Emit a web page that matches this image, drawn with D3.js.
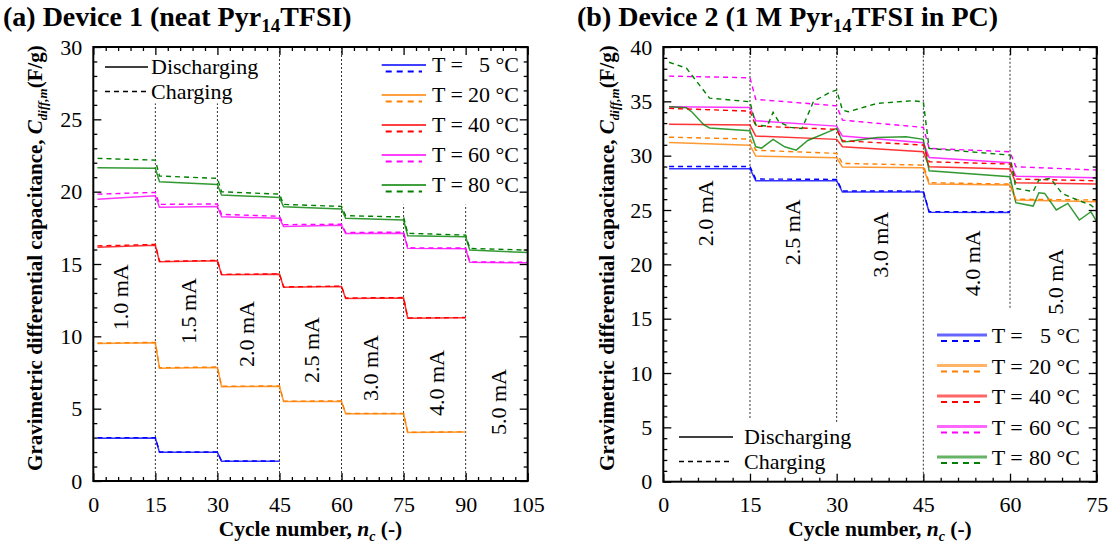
<!DOCTYPE html>
<html><head><meta charset="utf-8">
<script src="https://cdn.jsdelivr.net/npm/d3@7"></script>
<style>
body{margin:0;background:#fff;}
svg{display:block;font-family:"Liberation Serif","Times New Roman",serif;}
</style></head>
<body><svg id="c" width="1113" height="549"></svg>
<script>
// ---------------- DATA ----------------
const temps = ["5", "20", "40", "60", "80"];
const tempColors = ["#0000ff", "#ff8000", "#ff0000", "#ff00ff", "#008000"];

// Device 1 (neat Pyr14TFSI): [cycle, capacitance F/g]
const aDis5  = [[1,2.95],[15,2.98],[16,1.98],[30,1.98],[31,1.36],[45,1.36]];
const aChg5  = [[1,3.0],[15,3.0],[16,2.0],[30,2.0],[31,1.38],[45,1.38]];
const aDis20 = [[1,9.5],[15,9.55],[16,7.8],[30,7.85],[31,6.52],[45,6.55],[46,5.5],[60,5.5],[61,4.65],[75,4.65],[76,3.35],[90,3.38]];
const aChg20 = [[1,9.53],[15,9.58],[16,7.83],[30,7.88],[31,6.55],[45,6.57],[46,5.52],[60,5.53],[61,4.67],[75,4.67],[76,3.37],[90,3.4]];
const aDis40 = [[1,16.15],[15,16.3],[16,15.15],[30,15.22],[31,14.25],[45,14.3],[46,13.4],[60,13.45],[61,12.62],[75,12.65],[76,11.25],[90,11.28]];
const aChg40 = [[1,16.25],[15,16.35],[16,15.18],[30,15.25],[31,14.28],[45,14.32],[46,13.42],[60,13.47],[61,12.65],[75,12.68],[76,11.27],[90,11.3]];
const aDis60 = [[1,19.47],[15,19.72],[16,18.92],[30,18.98],[31,18.27],[45,18.16],[46,17.6],[60,17.68],[61,17.1],[75,17.12],[76,16.08],[90,16.05],[91,15.12],[105,15.08]];
const aChg60 = [[1,19.83],[15,19.95],[16,19.12],[30,19.15],[31,18.43],[45,18.3],[46,17.72],[60,17.75],[61,17.18],[75,17.2],[76,16.12],[90,16.1],[91,15.15],[105,15.12]];
const aDis80 = [[1,21.65],[15,21.62],[16,20.68],[30,20.5],[31,19.77],[45,19.6],[46,18.96],[60,18.8],[61,18.16],[75,18.04],[76,16.95],[90,16.88],[91,15.96],[105,15.8]];
const aChg80 = [[1,22.3],[15,22.18],[16,21.08],[30,20.92],[31,19.99],[45,19.83],[46,19.12],[60,18.98],[61,18.34],[75,18.25],[76,17.12],[90,17.0],[91,16.08],[105,15.96]];

// Device 2 (1 M Pyr14TFSI in PC)
const bDis5  = [[1,28.8],[15,28.8],[16,27.7],[30,27.7],[31,26.65],[45,26.65],[46,24.8],[60,24.78]];
const bChg5  = [[1,29.0],[15,29.0],[16,27.85],[30,27.82],[31,26.75],[45,26.74],[46,24.85],[60,24.84]];
const bDis20 = [[1,31.22],[15,30.97],[16,29.96],[30,29.81],[31,28.95],[45,28.89],[46,27.39],[60,27.3],[61,25.92],[75,25.76]];
const bChg20 = [[1,31.7],[15,31.53],[16,30.5],[30,30.21],[31,29.29],[45,29.13],[46,27.51],[60,27.39],[61,26.0],[75,25.92]];
const bDis40 = [[1,32.9],[15,32.82],[16,31.8],[30,31.5],[31,30.82],[45,30.36],[46,28.98],[60,28.77],[61,27.51],[75,27.39]];
const bChg40 = [[1,34.35],[15,34.1],[16,32.72],[30,32.42],[31,31.37],[45,30.98],[46,29.44],[60,29.23],[61,27.85],[75,27.69]];
const bDis60 = [[1,34.5],[15,34.44],[16,33.21],[30,32.72],[31,31.8],[45,31.19],[46,29.84],[60,29.35],[61,28.1],[75,27.98]];
const bChg60 = [[1,37.32],[15,37.17],[16,35.18],[30,34.59],[31,33.27],[45,32.6],[46,30.67],[60,30.36],[61,28.98],[75,28.68]];
const bDis80 = [[1,34.5],[4,34.4],[5,34.0],[7,32.85],[8,32.55],[15,32.3],[16,30.82],[17,30.7],[19,31.5],[21,30.82],[23,30.51],[25,31.4],[30,32.51],[31,31.28],[32,31.3],[37,31.68],[42,31.74],[45,31.5],[46,28.61],[60,28.06],[61,25.67],[64,25.36],[65,26.59],[66,26.53],[68,25.0],[70,25.61],[72,24.08],[74,24.84],[75,23.92]];
const bChg80 = [[1,38.6],[4,38.05],[8,35.3],[15,34.96],[16,32.82],[18,32.72],[19,34.0],[20,33.12],[22,32.6],[24,32.5],[26,35.0],[29,35.88],[30,36.03],[31,34.2],[32,34.04],[37,34.81],[43,35.05],[45,34.96],[46,30.67],[60,30.05],[61,26.99],[64,26.7],[65,27.76],[67,27.91],[69,26.53],[71,26.07],[74,25.45],[75,25.0]];

const aCurrents = ["1.0 mA","1.5 mA","2.0 mA","2.5 mA","3.0 mA","4.0 mA","5.0 mA"];
const bCurrents = ["2.0 mA","2.5 mA","3.0 mA","4.0 mA","5.0 mA"];
const aTicksX = [0,15,30,45,60,75,90,105];
const aTicksY = [0,5,10,15,20,25,30];
const bTicksX = [0,15,30,45,60,75];
const bTicksY = [0,5,10,15,20,25,30,35,40];
// segment separators: [cycle, from, to]
const aSeps = [[15,0,26.1],[30,0,26.1],[45,0,30],[60,0,30],[75,0,19.1],[90,0,19.1]];
const bSeps = [[15,5.86,40],[30,5.5,40],[45,0,40],[60,16.0,40]];

// ---------------- LAYOUT ----------------
const svg = d3.select("#c");
const FONT = '"Liberation Serif","Times New Roman",serif';

function panel(cfg){
  const x = d3.scaleLinear().domain(cfg.xd).range(cfg.xr);
  const y = d3.scaleLinear().domain(cfg.yd).range(cfg.yr);
  const g = svg.append("g");
  const [x0,x1] = cfg.xr, [y0,y1] = cfg.yr; // y0 bottom, y1 top
  const xMinor = d3.range(cfg.xd[0], cfg.xd[1]+0.001, 3).filter(v => v % 15 !== 0);
  const yMinor = d3.range(cfg.yd[0], cfg.yd[1]+0.001, 1).filter(v => v % 5 !== 0);

  // separators
  g.selectAll(".sep").data(cfg.seps).join("line")
    .attr("x1", d => x(d[0])).attr("x2", d => x(d[0]))
    .attr("y1", d => y(d[1])).attr("y2", d => y(d[2]))
    .attr("stroke", "#333").attr("stroke-width", 1).attr("stroke-dasharray", "2,2");

  // current labels
  g.selectAll(".cur").data(cfg.currents).join("text")
    .attr("transform", (d,i) => `translate(${x(cfg.curPos[i][0])},${y(cfg.curPos[i][1])}) rotate(-90)`)
    .attr("text-anchor", "middle").attr("dy", "0.35em")
    .attr("font-size", 22).attr("font-family", FONT).text(d => d);

  // series
  const line = d3.line().x(d => x(d[0])).y(d => y(d[1]));
  cfg.series.forEach((s,i) => {
    g.append("path").attr("d", line(s.dis)).attr("fill","none")
      .attr("stroke", tempColors[s.t]).attr("stroke-width", 1.5).attr("stroke-opacity", 0.8);
  });
  cfg.series.forEach((s,i) => {
    g.append("path").attr("d", line(s.chg)).attr("fill","none")
      .attr("stroke", tempColors[s.t]).attr("stroke-width", 1.4).attr("stroke-dasharray", "5,4");
  });

  // axes
  const mk = (ax, vals, size, fmt) => ax.tickValues(vals).tickSize(size).tickFormat(fmt);
  const bottom = g.append("g").attr("transform", `translate(0,${y0})`);
  bottom.call(mk(d3.axisBottom(x), cfg.xt, -8, d3.format("d")).tickPadding(15));
  bottom.append("g").call(mk(d3.axisBottom(x), xMinor, -4, ""));
  const top = g.append("g").attr("transform", `translate(0,${y1})`);
  top.call(mk(d3.axisTop(x), cfg.xt, -8, ""));
  top.append("g").call(mk(d3.axisTop(x), xMinor, -4, ""));
  const left = g.append("g").attr("transform", `translate(${x0},0)`);
  left.call(mk(d3.axisLeft(y), cfg.yt, -8, d3.format("d")).tickPadding(11));
  left.append("g").call(mk(d3.axisLeft(y), yMinor, -4, ""));
  const right = g.append("g").attr("transform", `translate(${x1},0)`);
  right.call(mk(d3.axisRight(y), cfg.yt, -8, ""));
  right.append("g").call(mk(d3.axisRight(y), yMinor, -4, ""));
  g.selectAll(".domain").remove();
  g.selectAll(".tick line").attr("stroke","#000").attr("stroke-width",1.3);
  g.selectAll(".tick text").attr("font-size", 22).attr("font-family", FONT).attr("fill","#000");
  g.append("rect").attr("x", x0).attr("y", y1).attr("width", x1-x0).attr("height", y0-y1)
    .attr("fill","none").attr("stroke","#000").attr("stroke-width",2);

  // title
  const t = svg.append("text").attr("x", cfg.titleX).attr("y", 26)
    .attr("font-size", 28).attr("font-weight","bold").attr("font-family", FONT);
  t.append("tspan").text(cfg.title[0]);
  t.append("tspan").attr("font-size", 19).attr("dy", 6).text("14");
  t.append("tspan").attr("dy", -6).text(cfg.title[1]);

  // y label
  const yl = svg.append("text")
    .attr("transform", `translate(${cfg.ylabX},${cfg.ylabY}) rotate(-90)`)
    .attr("text-anchor","middle").attr("font-size", 21).attr("font-weight","bold").attr("font-family", FONT);
  yl.append("tspan").text("Gravimetric differential capacitance, ");
  yl.append("tspan").attr("font-style","italic").text("C");
  yl.append("tspan").attr("font-style","italic").attr("font-size", 13).attr("dy", 5).text("diff,m");
  yl.append("tspan").attr("dy", -5).text("(F/g)");

  // x label
  const xl = svg.append("text").attr("x", (x0+x1)/2).attr("y", 535.5)
    .attr("text-anchor","middle").attr("font-size", 21.5).attr("font-weight","bold").attr("font-family", FONT);
  xl.append("tspan").text("Cycle number, ");
  xl.append("tspan").attr("font-style","italic").text("n");
  xl.append("tspan").attr("font-style","italic").attr("font-size", 14).attr("dy", 5).text("c");
  xl.append("tspan").attr("dy", -5).text(" (-)");
  return {x, y};
}

function leg(cfg){
  // Discharging / Charging
  const g = svg.append("g");
  const dc = [["Discharging", null], ["Charging", "5,4"]];
  dc.forEach((d,i) => {
    const yy = cfg.dcY[i];
    g.append("line").attr("x1", cfg.dcX[0]).attr("x2", cfg.dcX[1]).attr("y1", yy).attr("y2", yy)
      .attr("stroke","#000").attr("stroke-width",1.4).attr("stroke-dasharray", d[1]);
    g.append("text").attr("x", cfg.dcX[2]).attr("y", yy + 7).attr("font-size", 22).attr("font-family", FONT).text(d[0]);
  });
  temps.forEach((t,i) => {
    const base = cfg.tY0 + i*cfg.tDy;
    g.append("line").attr("x1", cfg.tX[0]).attr("x2", cfg.tX[1]).attr("y1", base - cfg.solidOff).attr("y2", base - cfg.solidOff)
      .attr("stroke", tempColors[i]).attr("stroke-width", cfg.solidW).attr("stroke-opacity", cfg.solidOp);
    g.append("line").attr("x1", cfg.tX[0]+4).attr("x2", cfg.tX[1]-4).attr("y1", base - cfg.dashOff).attr("y2", base - cfg.dashOff)
      .attr("stroke", tempColors[i]).attr("stroke-width", 1.8).attr("stroke-dasharray","6,5");
    g.append("text").attr("x", cfg.tX[2]).attr("y", base).attr("font-size", 22).attr("font-family", FONT).text("T =");
    g.append("text").attr("x", cfg.tX[3]).attr("y", base).attr("text-anchor","end").attr("font-size", 22).attr("font-family", FONT).text(t + " °C");
  });
}

const pa = panel({
  xd:[0,105], xr:[93.3,527.7], yd:[0,30], yr:[481,47],
  xt:aTicksX, yt:aTicksY, seps:aSeps, currents:aCurrents,
  curPos:[[6.45,12.7],[22.9,11.75],[37.1,10.16],[52.6,9.05],[66.9,7.81],[82.9,6.77],[97.8,5.46]],
  series:[
    {t:0, dis:aDis5, chg:aChg5},{t:1, dis:aDis20, chg:aChg20},{t:2, dis:aDis40, chg:aChg40},
    {t:3, dis:aDis60, chg:aChg60},{t:4, dis:aDis80, chg:aChg80}],
  titleX:3, title:["(a) Device 1 (neat Pyr","TFSI)"], ylabX:42, ylabY:258
});
const pb = panel({
  xd:[0,75], xr:[663.3,1096.7], yd:[0,40], yr:[481.7,47],
  xt:bTicksX, yt:bTicksY, seps:bSeps, currents:bCurrents,
  curPos:[[7.2,24.7],[22.3,22.95],[37.5,21.8],[53.4,20.1],[67.8,18.4]],
  series:[
    {t:0, dis:bDis5, chg:bChg5},{t:1, dis:bDis20, chg:bChg20},{t:2, dis:bDis40, chg:bChg40},
    {t:3, dis:bDis60, chg:bChg60},{t:4, dis:bDis80, chg:bChg80}],
  titleX:577, title:["(b) Device 2 (1 M Pyr","TFSI in PC)"], ylabX:614, ylabY:258
});

leg({dcX:[105,148,151], dcY:[67,91.5], tX:[381.7,426,432,519], tY0:72, tDy:30, solidOff:7, dashOff:0.5, solidW:1.5, solidOp:1});
leg({dcX:[679,733,744], dcY:[437,461.5], tX:[937,987,991.7,1080], tY0:343, tDy:30.5, solidOff:8, dashOff:2, solidW:3, solidOp:0.6});
</script></body></html>
